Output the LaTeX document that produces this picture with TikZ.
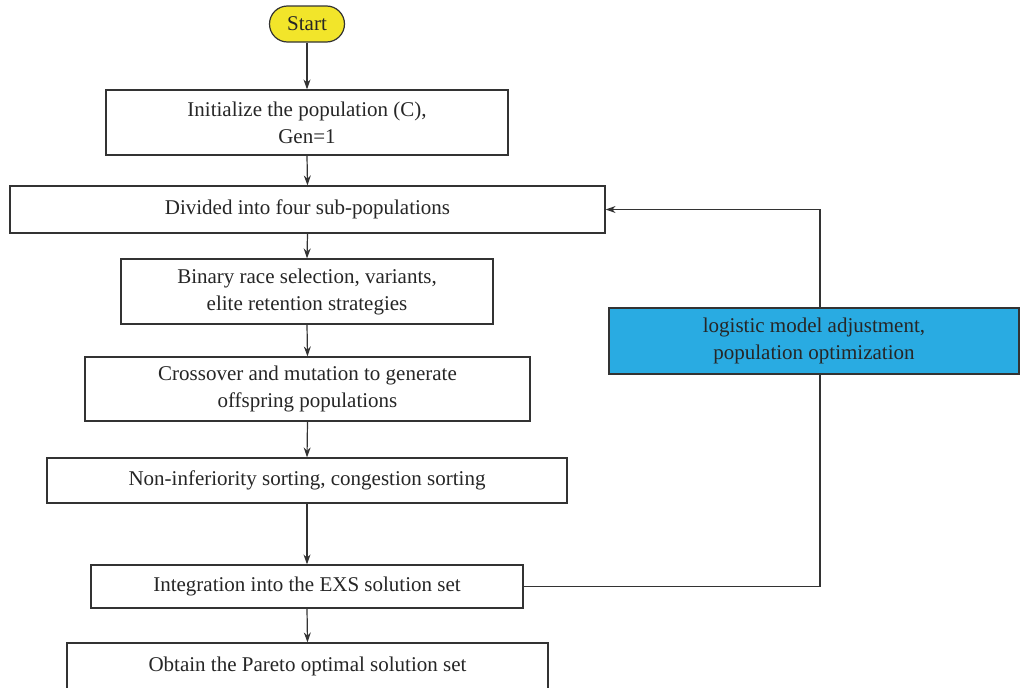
\documentclass[tikz,border=0pt]{standalone}
\usepackage{fontspec}
\setmainfont{Liberation Serif}
\usetikzlibrary{arrows.meta}
\definecolor{startyellow}{HTML}{F2E52A}
\definecolor{boxblue}{HTML}{29ABE2}
\definecolor{linegray}{HTML}{333333}
\begin{document}
\begin{tikzpicture}[x=1pt,y=-1pt,
  box/.style={draw=linegray,line width=1.2pt,fill=white,rectangle,align=center,inner sep=0pt,
    font=\fontsize{21}{27}\selectfont,text=black!85},
  startbox/.style={box,fill=startyellow,rounded corners=18pt},
  bluebox/.style={box,fill=boxblue},
  conn/.style={draw=linegray,line width=1.2pt},
  arr/.style={conn,-{Stealth[length=10pt,width=7pt]}}]
\useasboundingbox (0,0) rectangle (1020,688);
\begin{scope}
\clip (0,0) rectangle (1020,688);
\node[startbox,minimum width=75pt,minimum height=36pt] (start) at (307,24) {Start};
\node[box,minimum width=402pt,minimum height=65pt] (b1) at (307,122.5) {Initialize the population (C),\\Gen=1};
\node[box,minimum width=595pt,minimum height=47pt] (b2) at (307.5,209.5) {Divided into four sub-populations};
\node[box,minimum width=372pt,minimum height=65pt] (b3) at (307,291.5) {Binary race selection, variants,\\elite retention strategies};
\node[box,minimum width=445pt,minimum height=64pt] (b4) at (307.5,389) {Crossover and mutation to generate\\offspring populations};
\node[box,minimum width=520pt,minimum height=45pt] (b5) at (307,480.5) {Non-inferiority sorting, congestion sorting};
\node[box,minimum width=432pt,minimum height=43pt] (b6) at (307,586.5) {Integration into the EXS solution set};
\node[box,minimum width=481pt,minimum height=47pt] (b7) at (307.5,666.5) {Obtain the Pareto optimal solution set};
\node[bluebox,minimum width=410pt,minimum height=66pt] (blue) at (814,341) {logistic model adjustment,\\population optimization};
\coordinate (cb) at (820,586.5);
\coordinate (ct) at (820,209.5);
\draw[arr] (start.south) -- (b1.north);
\draw[arr] (b1.south) -- (b2.north);
\draw[arr] (b2.south) -- (b3.north);
\draw[arr] (b3.south) -- (b4.north);
\draw[arr] (b4.south) -- (b5.north);
\draw[arr] (b5.south) -- (b6.north);
\draw[arr] (b6.south) -- (b7.north);
\draw[conn] (b6.east) -- (cb) -- (cb |- blue.south);
\draw[arr] (ct |- blue.north) -- (ct) -- (b2.east);
\end{scope}
\end{tikzpicture}
\end{document}
